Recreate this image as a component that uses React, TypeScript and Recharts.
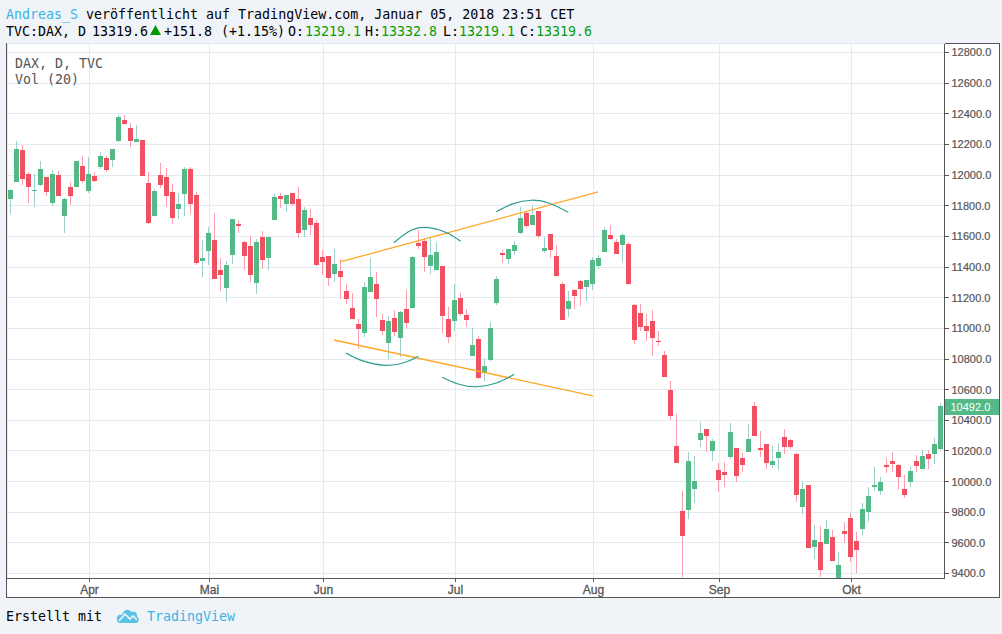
import { Bar, CartesianGrid, ComposedChart, Line, ReferenceLine, XAxis, YAxis } from "recharts";

const opens = [
  11844, 11955, 12164, 12007, 11896, 11935, 11988, 11818, 12001, 11733,
  11922, 11922, 12059, 11896, 11994, 12053, 12112, 12098, 12222, 12360,
  12307, 12216, 12229, 11948, 11733, 12001, 11988, 11890, 11779, 11877,
  12040, 11870, 11439, 11505, 11577, 11381, 11263, 11479, 11681, 11564,
  11537, 11296, 11596, 11459, 11707, 11864, 11811, 11883, 11844, 11642,
  11720, 11687, 11466, 11472, 11355, 11374, 11244, 11133, 11028, 10970,
  11237, 11289, 11055, 10904, 11068, 10937, 11126, 11133, 11557, 11570,
  11407, 11381, 11407, 11061, 11048, 11198, 11087, 10820, 10931, 10709,
  10793, 11165, 11492, 11453, 11505, 11622, 11753, 11674, 11766, 11505,
  11616, 11472, 11289, 11126, 11250, 11309, 11270, 11289, 11407, 11498,
  11609, 11563, 11544, 11550, 11152, 11100, 11015, 11048, 10918, 10826,
  10598, 10232, 9808, 9815, 9952, 10272, 10343, 10200, 10076, 10063,
  10161, 10219, 10154, 10193, 10493, 10219, 10245, 10108, 10154, 10291,
  10272, 10180, 9834, 9978, 9574, 9606, 9593, 9639, 9372, 9678,
  9763, 9613, 9691, 9802, 9965, 9939, 10108, 10135, 10108, 9952,
  9998, 10135, 10082, 10180, 10180, 10213,
];
const highs = [
  11909, 12222, 12196, 12020, 12007, 12092, 11988, 12033, 12027, 11851,
  11955, 12092, 12125, 12118, 12020, 12151, 12125, 12170, 12392, 12392,
  12340, 12327, 12229, 12020, 11909, 12079, 12046, 11942, 11883, 12053,
  12053, 11890, 11577, 11661, 11753, 11459, 11440, 11714, 11707, 11570,
  11603, 11583, 11635, 11596, 11877, 11883, 11870, 11883, 11922, 11792,
  11779, 11707, 11511, 11472, 11518, 11453, 11289, 11231, 11061, 11303,
  11459, 11368, 11094, 11081, 11120, 11113, 11250, 11472, 11642, 11590,
  11596, 11563, 11407, 11139, 11289, 11231, 11126, 11002, 10950, 10807,
  11041, 11342, 11511, 11518, 11570, 11792, 11759, 11805, 11766, 11596,
  11616, 11544, 11302, 11244, 11257, 11315, 11315, 11466, 11479, 11661,
  11674, 11583, 11622, 11564, 11159, 11159, 11094, 11120, 10983, 10852,
  10657, 10441, 9939, 10193, 10167, 10389, 10343, 10278, 10121, 10128,
  10382, 10219, 10187, 10376, 10520, 10330, 10245, 10232, 10252, 10343,
  10278, 10187, 10004, 9978, 9717, 9710, 9750, 9684, 9541, 9736,
  9795, 9671, 9861, 9965, 10095, 10030, 10154, 10193, 10115, 10043,
  10095, 10174, 10206, 10206, 10285, 10513,
];
const lows = [
  11746, 11955, 11935, 11818, 11792, 11929, 11864, 11798, 11864, 11622,
  11805, 11922, 11948, 11883, 11955, 12040, 12020, 12053, 12216, 12327,
  12183, 12216, 11994, 11681, 11733, 11916, 11792, 11681, 11714, 11733,
  11746, 11413, 11335, 11413, 11322, 11244, 11172, 11420, 11622, 11381,
  11303, 11224, 11387, 11381, 11707, 11785, 11759, 11798, 11590, 11596,
  11609, 11407, 11348, 11276, 11303, 11192, 11159, 11061, 10865, 10944,
  11237, 11074, 10957, 10800, 10950, 10813, 11002, 11133, 11518, 11368,
  11355, 11374, 10970, 10904, 10983, 11081, 11009, 10820, 10670, 10657,
  10787, 11152, 11426, 11420, 11479, 11616, 11655, 11674, 11590, 11492,
  11459, 11335, 11054, 11074, 11126, 11146, 11178, 11250, 11387, 11498,
  11577, 11485, 11433, 11283, 10898, 10983, 10918, 10820, 10885, 10683,
  10402, 10121, 9378, 9756, 9860, 10226, 10193, 10134, 9932, 9965,
  10148, 9998, 10063, 10193, 10298, 10161, 10082, 10089, 10076, 10180,
  10213, 9867, 9789, 9567, 9495, 9378, 9593, 9482, 9372, 9600,
  9475, 9404, 9652, 9737, 9939, 9913, 10056, 10063, 9945, 9893,
  9965, 10063, 10082, 10082, 10115, 10200,
];
const closes = [
  11903, 12170, 11975, 11922, 11903, 12040, 11890, 12007, 11864, 11844,
  11864, 12092, 11961, 12007, 11961, 12125, 12033, 12170, 12379, 12333,
  12222, 12236, 11994, 11687, 11896, 11935, 11864, 11720, 11811, 12040,
  11811, 11426, 11459, 11622, 11322, 11348, 11413, 11714, 11668, 11472,
  11348, 11564, 11446, 11596, 11857, 11844, 11870, 11811, 11622, 11772,
  11674, 11413, 11433, 11329, 11420, 11335, 11192, 11061, 10996, 11270,
  11335, 11192, 10983, 11048, 10976, 11107, 11035, 11466, 11537, 11466,
  11479, 11498, 11081, 10944, 11185, 11094, 11055, 10891, 10676, 10754,
  11002, 11322, 11479, 11518, 11544, 11720, 11668, 11740, 11603, 11524,
  11511, 11342, 11054, 11179, 11211, 11257, 11315, 11446, 11459, 11642,
  11583, 11485, 11609, 11290, 10924, 11009, 10983, 10937, 10911, 10683,
  10428, 10121, 9645, 10134, 10004, 10317, 10298, 10265, 10011, 10043,
  10324, 10037, 10108, 10278, 10298, 10206, 10121, 10135, 10193, 10226,
  10226, 9913, 9952, 9567, 9619, 9423, 9691, 9482, 9456, 9658,
  9508, 9554, 9821, 9906, 9978, 9998, 10095, 10115, 10030, 9913,
  10069, 10102, 10167, 10148, 10246, 10492,
];

const priceTicks = [
  9400, 9600, 9800, 10000, 10200, 10400, 10600, 10800, 11000, 11200, 11400,
  11600, 11800, 12000, 12200, 12400, 12600, 12800,
];
const monthIndexes = [13, 33, 52, 74, 97, 118, 140];
const monthLabels = ["Apr", "Mai", "Jun", "Jul", "Aug", "Sep", "Okt"];

const upperChannel = [
  { x: 54.75, y: 11433 },
  { x: 97.75, y: 11890 },
];
const lowerChannel = [
  { x: 53.75, y: 10924 },
  { x: 96.9, y: 10559 },
];
const arcLowLeft = [
  { x: 55.75, y: 10839 },
  { x: 58.08, y: 10794 },
  { x: 62.25, y: 10759 },
  { x: 65.87, y: 10782 },
  { x: 67.8, y: 10818 },
];
const arcHighLeft = [
  { x: 63.75, y: 11559 },
  { x: 66.08, y: 11629 },
  { x: 68.75, y: 11659 },
  { x: 72.25, y: 11629 },
  { x: 74.87, y: 11568 },
];
const arcLowRight = [
  { x: 71.8, y: 10681 },
  { x: 74.42, y: 10637 },
  { x: 77.53, y: 10619 },
  { x: 80.92, y: 10645 },
  { x: 83.8, y: 10700 },
];
const arcHighRight = [
  { x: 80.8, y: 11761 },
  { x: 83.42, y: 11811 },
  { x: 86.7, y: 11836 },
  { x: 89.75, y: 11815 },
  { x: 92.8, y: 11757 },
];

const candles = opens.map((open, i) => ({
  i,
  open,
  close: closes[i],
  high: highs[i],
  low: lows[i],
  range: [lows[i], highs[i]],
}));

const GREEN = "#53b987";
const RED = "#ef5062";
const AXIS = "#555555";
const MONO = '"DejaVu Sans Mono", monospace';
const SANS = '"Liberation Sans", Arial, sans-serif';
const BLUE = "#3bb3e4";
const VALUE_GREEN = "#0a9d0a";

// The bar covers low..high, so the body is placed from that same pixel span.
// Recharts leaves the 5px bar at band start + 1; the reference candles sit
// one pixel left of the month grid lines, hence the 1.5 pull back.
function Candle(props: any) {
  const { x, y, width, height, payload } = props;
  const { open, close, high, low } = payload;
  const perUnit = height / (high - low);
  const top = y + (high - Math.max(open, close)) * perUnit;
  const bodyHeight = Math.max(Math.abs(open - close) * perUnit, 1);
  const up = close >= open;
  const cx = x + width / 2 - 1.5;
  return (
    <g>
      <rect x={cx - 0.5} y={y} width={1} height={height} fill={up ? "#9dcfcd" : "#fb9eae"} />
      <rect x={cx - 2.5} y={top} width={5} height={bodyHeight} fill={up ? GREEN : RED} />
    </g>
  );
}

function PriceTag(props: any) {
  const { viewBox } = props;
  const right = viewBox.x + viewBox.width;
  return (
    <g>
      <rect x={right} y={viewBox.y - 7.5} width={54} height={16} fill={GREEN} />
      <text x={right + 6} y={viewBox.y + 4.5} fill="#ffffff" fontSize={11} fontFamily={SANS}>
        {closes[closes.length - 1].toFixed(1)}
      </text>
    </g>
  );
}

function Mono({ x, y, color = "#000", children }: any) {
  return (
    <div
      style={{
        position: "absolute",
        left: x,
        top: y,
        color,
        font: `13.3px/16px ${MONO}`,
        whiteSpace: "pre",
      }}
    >
      {children}
    </div>
  );
}

function Overlays() {
  return (
    <>
      <Mono x={6} y={7} color={BLUE}>Andreas_S</Mono>
      <Mono x={86} y={7}>veröffentlicht auf TradingView.com, Januar 05, 2018 23:51 CET</Mono>
      <Mono x={6} y={24}>TVC:DAX, D</Mono>
      <Mono x={92} y={24}>13319.6</Mono>
      <svg style={{ position: "absolute", left: 149, top: 24 }} width={13} height={12}>
        <polygon points="6.5,1 12,11 1,11" fill="#009900" />
      </svg>
      <Mono x={164} y={24}>+151.8</Mono>
      <Mono x={221} y={24}>(+1.15%)</Mono>
      <Mono x={288} y={24}>O:</Mono>
      <Mono x={305} y={24} color={VALUE_GREEN}>13219.1</Mono>
      <Mono x={365} y={24}>H:</Mono>
      <Mono x={381} y={24} color={VALUE_GREEN}>13332.8</Mono>
      <Mono x={443} y={24}>L:</Mono>
      <Mono x={459} y={24} color={VALUE_GREEN}>13219.1</Mono>
      <Mono x={520} y={24}>C:</Mono>
      <Mono x={536} y={24} color={VALUE_GREEN}>13319.6</Mono>
      <Mono x={15} y={56} color={AXIS}>DAX, D, TVC</Mono>
      <Mono x={15} y={72} color={AXIS}>Vol (20)</Mono>
      <Mono x={6} y={609}>Erstellt mit</Mono>
      <svg style={{ position: "absolute", left: 116, top: 607 }} width={24} height={17}>
        <path
          d="M1 13 C0 9 3 7 6 8 C7 3 13 1 15 5 C19 3 22 7 21 10 C24 11 23 16 20 16 L4 16 C2 16 1 15 1 13 Z"
          fill="#5bc2e7"
        />
        <path d="M3 14 L9 7 L14 12 L17 9 L21 13" fill="none" stroke="#f0f3f7" strokeWidth={1.6} />
      </svg>
      <Mono x={147} y={609} color={BLUE}>TradingView</Mono>
    </>
  );
}

export default function App() {
  return (
    <div
      style={{
        position: "absolute",
        left: 0,
        top: 0,
        width: 1002,
        height: 634,
        background: "#f0f3f7",
        overflow: "hidden",
      }}
    >
      <div
        style={{
          position: "absolute",
          left: 6,
          top: 43,
          width: 992,
          height: 553,
          background: "#ffffff",
          border: `1px solid ${AXIS}`,
        }}
      />
      <div style={{ position: "absolute", left: 0, top: 0, shapeRendering: "crispEdges" }}>
        <ComposedChart
          width={1002}
          height={634}
          data={candles}
          barSize={5}
          margin={{ top: 43.5, right: 0, bottom: 36, left: 7 }}
        >
          <CartesianGrid stroke="#e2ebf1" strokeWidth={1} />
          <XAxis
            dataKey="i"
            height={20}
            interval={0}
            ticks={monthIndexes}
            tickFormatter={(v: number) => monthLabels[monthIndexes.indexOf(v)]}
            padding={{ left: 1.5, right: 0 }}
            stroke={AXIS}
            tickSize={4}
            tickMargin={3}
            tick={{ fill: AXIS, stroke: AXIS, strokeWidth: 0.3, fontSize: 12, fontFamily: SANS }}
          />
          <XAxis
            xAxisId="pos"
            type="number"
            dataKey="x"
            domain={[-0.5, 155.5]}
            padding={{ left: 1.5, right: 0 }}
            hide
          />
          <YAxis
            orientation="right"
            width={57.5}
            domain={[9371, 12858.7]}
            ticks={priceTicks}
            interval={0}
            tickFormatter={(v: number) => v.toFixed(1)}
            stroke={AXIS}
            tickSize={4}
            tickMargin={3}
            tick={{ fill: AXIS, stroke: AXIS, strokeWidth: 0.2, fontSize: 11, fontFamily: SANS }}
          />
          <Bar dataKey="range" shape={Candle} isAnimationActive={false} />
          {[upperChannel, lowerChannel].map((points, n) => (
            <Line
              key={`channel-${n}`}
              xAxisId="pos"
              data={points}
              dataKey="y"
              type="linear"
              stroke="#ffa726"
              strokeWidth={1.3}
              dot={false}
              style={{ shapeRendering: "geometricPrecision" }}
              isAnimationActive={false}
            />
          ))}
          {[arcLowLeft, arcHighLeft, arcLowRight, arcHighRight].map((points, n) => (
            <Line
              key={`arc-${n}`}
              xAxisId="pos"
              data={points}
              dataKey="y"
              type="natural"
              stroke="#2a9d8f"
              strokeWidth={1.2}
              dot={false}
              style={{ shapeRendering: "geometricPrecision" }}
              isAnimationActive={false}
            />
          ))}
          <ReferenceLine
            y={closes[closes.length - 1]}
            stroke="none"
            ifOverflow="visible"
            label={PriceTag}
          />
        </ComposedChart>
      </div>
      <Overlays />
    </div>
  );
}
